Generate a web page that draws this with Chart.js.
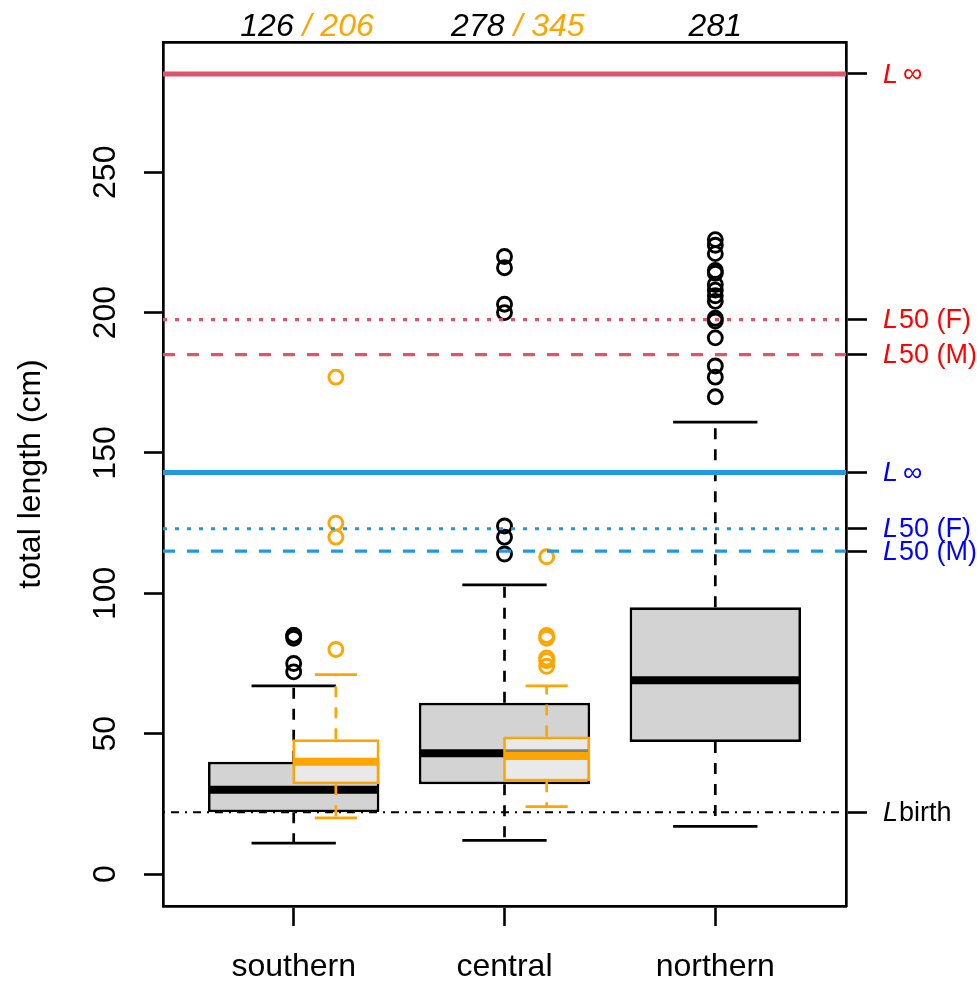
<!DOCTYPE html>
<html><head><meta charset="utf-8">
<script src="https://cdn.jsdelivr.net/npm/chart.js@4.4.0/dist/chart.umd.min.js"></script>
<style>html,body{margin:0;padding:0;background:#fff;}</style>
</head><body>
<canvas id="c" width="977" height="985"></canvas>
<script>
// ---------------- data ----------------
const categories = ['southern', 'central', 'northern'];
const countsBlack = [126, 278, 281];
const countsOrange = [206, 345, null];

const greyLowerWhisker = [11, 12, 17];
const greyQ1 = [22, 32, 47];
const greyMedian = [30, 43, 69];
const greyQ3 = [40, 61, 95];
const greyUpperWhisker = [67, 103, 161];
const greyOutliers = [
  [72, 75, 84, 85, 85],
  [114, 120, 124, 200, 203, 216, 220],
  [170, 177, 181, 191, 197, 198, 204, 206, 208, 210, 214, 215, 221, 224, 226]
];

const orangeLowerWhisker = [20, 24];
const orangeQ1 = [32, 33];
const orangeMedian = [40, 42];
const orangeQ3 = [48, 49];
const orangeUpperWhisker = [71, 67];
const orangeOutliers = [
  [80, 120, 125, 177],
  [74, 76, 77, 84, 85, 113]
];

const refValues = [285, 197.5, 185, 143, 123, 115, 22];
const refLabels = ['\u221E', '50 (F)', '50 (M)', '\u221E', '50 (F)', '50 (M)', 'birth'];
const yTicks = [0, 50, 100, 150, 200, 250];

// ---------------- styles ----------------
const FAMILY = "'Liberation Sans', Arial, Helvetica, sans-serif";
const BLACK = '#000000';
const ORANGE = '#FFA500';
const GREY = '#D3D3D3';
const RED_LINE = '#DF536B';
const BLUE_LINE = '#2297E6';
const LW = 2.7;
const refStyles = [
  { color: RED_LINE, width: 5, dash: [] },
  { color: RED_LINE, width: 3.2, dash: [4, 8] },
  { color: RED_LINE, width: 3.2, dash: [12, 12] },
  { color: BLUE_LINE, width: 5, dash: [] },
  { color: BLUE_LINE, width: 3.2, dash: [4, 8] },
  { color: BLUE_LINE, width: 3.2, dash: [12, 12] },
  { color: BLACK, width: 1.8, dash: [2, 6, 8, 6] }
];
const refLabelColors = ['#FF0000', '#FF0000', '#FF0000', '#0000FF', '#0000FF', '#0000FF', '#000000'];

// R-like axis limits (4% extension)
const XLO = 0.5, XHI = categories.length + 0.5;
const XPAD = 0.04 * (XHI - XLO);
const YLO = 0, YHI = Math.max(...refValues);
const YPAD = 0.04 * (YHI - YLO);
const XMIN = XLO - XPAD, XMAX = XHI + XPAD;
const YMIN = YLO - YPAD, YMAX = YHI + YPAD;

// ---------------- datasets ----------------
const datasets = [];
let ord = 1000;
function add(ds) { ds.order = ord--; datasets.push(ds); }
function seg(x0, y0, x1, y1) { return [{ x: x0, y: y0 }, { x: x1, y: y1 }, { x: x1, y: null }]; }

function addGroup(g) {
  const whisk = [], caps = [], meds = [], outs = [], boxes = [];
  g.q1.forEach((q1, i) => {
    const p = i + 1 + g.shift;
    whisk.push(...seg(p, g.q3[i], p, g.uw[i]), ...seg(p, g.q1[i], p, g.lw[i]));
    caps.push(...seg(p - g.half / 2, g.uw[i], p + g.half / 2, g.uw[i]),
              ...seg(p - g.half / 2, g.lw[i], p + g.half / 2, g.lw[i]));
    meds.push(...seg(p - g.half, g.med[i], p + g.half, g.med[i]));
    boxes.push({ x: p, y: [g.q1[i], g.q3[i]] });
    g.out[i].forEach(v => outs.push({ x: p, y: v }));
  });
  add({ type: 'line', data: whisk, borderColor: g.color, borderWidth: LW, borderDash: [11, 10],
        pointRadius: 0, xAxisID: 'x', yAxisID: 'y' });
  add({ type: 'line', data: caps, borderColor: g.color, borderWidth: LW,
        pointRadius: 0, xAxisID: 'x', yAxisID: 'y' });
  add({ type: 'bar', data: boxes, backgroundColor: g.fill, borderColor: g.color, borderWidth: LW,
        borderSkipped: false, grouped: false, barPercentage: g.half * 2 + 0.013, categoryPercentage: 1,
        xAxisID: g.xAxis, yAxisID: 'y' });
  add({ type: 'line', data: meds, borderColor: g.color, borderWidth: 8,
        pointRadius: 0, xAxisID: 'x', yAxisID: 'y' });
  add({ type: 'line', data: outs, showLine: false, pointStyle: 'circle', pointRadius: 7,
        pointBorderWidth: 2.9, pointBorderColor: g.color, pointBackgroundColor: 'rgba(0,0,0,0)',
        borderColor: g.color, backgroundColor: 'rgba(0,0,0,0)', xAxisID: 'x', yAxisID: 'y' });
}

addGroup({ q1: greyQ1, med: greyMedian, q3: greyQ3, lw: greyLowerWhisker, uw: greyUpperWhisker,
           out: greyOutliers, shift: 0, half: 0.4, color: BLACK, fill: GREY, xAxis: 'x' });
addGroup({ q1: orangeQ1, med: orangeMedian, q3: orangeQ3, lw: orangeLowerWhisker, uw: orangeUpperWhisker,
           out: orangeOutliers, shift: 0.2, half: 0.2, color: ORANGE, fill: 'rgba(255,255,255,0.5)', xAxis: 'x2' });

refValues.forEach((v, i) => {
  add({ type: 'line', data: [{ x: XMIN, y: v }, { x: XMAX, y: v }],
        borderColor: refStyles[i].color, borderWidth: refStyles[i].width, borderDash: refStyles[i].dash,
        pointRadius: 0, xAxisID: 'x', yAxisID: 'y' });
});

// ---------------- text plugin ----------------
const textPlugin = {
  id: 'texts',
  afterDraw(chart) {
    const ctx = chart.ctx;
    const xs = chart.scales.x, y2 = chart.scales.y2;
    ctx.save();
    ctx.font = 'italic 32px ' + FAMILY;
    ctx.textBaseline = 'alphabetic';
    const yb = chart.chartArea.top - 6;
    categories.forEach((c, i) => {
      const px = xs.getPixelForValue(i + 1);
      if (countsOrange[i] != null) {
        ctx.textAlign = 'right'; ctx.fillStyle = BLACK;
        ctx.fillText(String(countsBlack[i]), px, yb);
        ctx.textAlign = 'left'; ctx.fillStyle = ORANGE;
        ctx.fillText(' / ' + countsOrange[i], px, yb);
      } else {
        ctx.textAlign = 'center'; ctx.fillStyle = BLACK;
        ctx.fillText(String(countsBlack[i]), px, yb);
      }
    });
    ctx.textBaseline = 'middle';
    ctx.textAlign = 'left';
    refValues.forEach((v, i) => {
      const py = y2.getPixelForValue(v) + 1;
      const x0 = y2.left + 37;
      ctx.fillStyle = refLabelColors[i];
      ctx.font = 'italic 27px ' + FAMILY;
      ctx.fillText('L', x0, py);
      const w = ctx.measureText('L').width;
      const isInf = refLabels[i] === '\u221E';
      ctx.font = '27px ' + FAMILY;
      ctx.fillText(refLabels[i], x0 + w + (isInf ? 5 : 1), py);
    });
    ctx.restore();
  }
};

// ---------------- chart ----------------
Chart.defaults.font.family = FAMILY;
Chart.defaults.font.size = 32;
Chart.defaults.color = BLACK;

const tickGrid = (len) => ({ drawOnChartArea: false, drawTicks: true, tickLength: len, tickWidth: 2.6,
                             tickColor: BLACK, offset: false });
const frame = { display: true, color: BLACK, width: 2.7 };

new Chart(document.getElementById('c'), {
  type: 'bar',
  data: { datasets },
  options: {
    responsive: false,
    devicePixelRatio: 1,
    animation: false,
    events: [],
    layout: { padding: { top: 42, left: 0, right: 0, bottom: 0 } },
    plugins: { legend: { display: false }, tooltip: { enabled: false }, title: { display: false } },
    scales: {
      x: {
        type: 'linear', position: 'bottom', min: XMIN, max: XMAX, offset: false,
        afterBuildTicks: s => { s.ticks = categories.map((_, i) => ({ value: i + 1 })); },
        afterFit: s => { s.height = 79; },
        ticks: { autoSkip: false, maxRotation: 0, minRotation: 0, padding: 22,
                 callback: v => categories[v - 1], font: { size: 32 }, color: BLACK },
        grid: tickGrid(20), border: frame
      },
      xTop: {
        type: 'linear', position: 'top', min: XMIN, max: XMAX, offset: false,
        afterFit: s => { s.height = 0; },
        ticks: { display: false },
        grid: { drawOnChartArea: false, drawTicks: false }, border: frame
      },
      x2: {
        type: 'linear', display: false, min: XMIN, max: XMAX, offset: false,
        afterBuildTicks: s => { s.ticks = categories.map((_, i) => ({ value: i + 1 })); }
      },
      y: {
        type: 'linear', position: 'left', min: YMIN, max: YMAX,
        afterBuildTicks: s => { s.ticks = yTicks.map(v => ({ value: v })); },
        afterFit: s => { s.width = 163; },
        ticks: { autoSkip: false, minRotation: 90, maxRotation: 90, crossAlign: 'center', padding: 11,
                 font: { size: 32 }, color: BLACK },
        grid: tickGrid(19), border: frame,
        title: { display: true, text: 'total length (cm)', font: { size: 32 }, color: BLACK,
                 padding: { top: 12, bottom: 0 } }
      },
      y2: {
        type: 'linear', position: 'right', min: YMIN, max: YMAX,
        afterBuildTicks: s => { s.ticks = refValues.map(v => ({ value: v })); },
        afterFit: s => { s.width = 131; },
        ticks: { autoSkip: false, callback: () => '' },
        grid: tickGrid(21), border: frame
      }
    }
  },
  plugins: [textPlugin]
});
</script>
</body></html>
